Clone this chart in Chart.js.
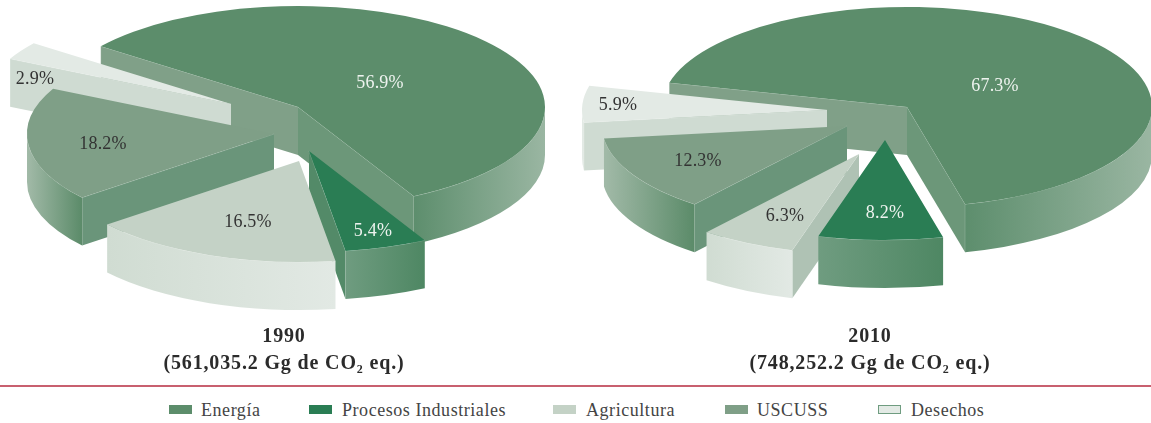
<!DOCTYPE html>
<html lang="es">
<head>
<meta charset="utf-8">
<title>Emisiones 1990 y 2010</title>
<script src="https://cdn.jsdelivr.net/npm/chart.js@4"></script>
<style>
  html, body { margin: 0; padding: 0; width: 1151px; height: 423px; background: #fff; overflow: hidden; }
  canvas { position: absolute; top: 0; }
  #rule { position: absolute; left: 0; top: 385px; width: 1151px; height: 2px; background: #c8606f; }
  .lg { position: absolute; top: 400px; height: 22px; line-height: 22px; font: 18px "Liberation Serif", serif; letter-spacing: .55px; color: #444; white-space: nowrap; }
  .sw { position: absolute; top: 405px; width: 23px; height: 9px; box-sizing: border-box; }
</style>
</head>
<body>
<canvas id="c1990" width="568" height="380" style="left:0"></canvas>
<canvas id="c2010" width="590" height="380" style="left:575px"></canvas>
<div id="rule"></div>
<div id="legend"></div>
<script>
// ---- data ----
const categories = ['Energía', 'Procesos Industriales', 'Agricultura', 'USCUSS', 'Desechos'];
const values1990 = [56.9, 5.4, 16.5, 18.2, 2.9];
const values2010 = [67.3, 8.2, 6.3, 12.3, 5.9];
const title1990 = ['1990', '(561,035.2 Gg de CO₂ eq.)'];
const title2010 = ['2010', '(748,252.2 Gg de CO₂ eq.)'];

// ---- styles ----
const topColors  = ['#5c8d6b', '#2a7d54', '#c4d2c6', '#7f9f87', '#e3eae5'];
const wallStops  = [
  ['#5d8e6d', '#9ab6a2'],
  ['#6f9c80', '#4e8763'],
  ['#d0dcd2', '#e2e9e4'],
  ['#a2baa8', '#5b8b69'],
  ['#e3eae5', '#e3eae5']
];
const faceColors = ['#80a088', '#538a68', '#afc2b4', '#6a957a', '#cfdbd2'];
const endFaceColors = ['#6c9779', '#538a68', '#afc2b4', '#6a957a', '#cfdbd2'];
const labelInk   = ['#eef3ef', '#eef3ef', '#333', '#333', '#333'];
const legendLefts = [[169, 201], [309, 342], [553, 586], [725, 757], [878, 911]];

const place1990 = { rx: 247, ry: 101, depth: 48, order: [0, 4, 3, 1, 2],
  apex:  [[298,107],[309,151],[299,161],[274,134],[231,104]],
  label: [[380,83],[373,231],[248,222],[103,144],[35,79]] };
const place2010 = { rx: 245, ry: 100, depth: 48, order: [0, 4, 3, 2, 1],
  apex:  [[907,107],[885,140],[859,154],[847,126],[827,110]],
  label: [[995,86],[885,213],[785,216],[698,161],[618,105]], offsetX: 575 };

class Pie3D extends Chart.PieController {
  draw() {
    const chart = this.chart, ctx = chart.ctx;
    const p = chart.options.plugins.place;
    const arcs = this.getMeta().data;
    const ox = p.offsetX || 0;
    ctx.save();
    ctx.letterSpacing = '0px';
    for (const i of p.order) {
      const arc = arcs[i];
      const { startAngle: a, endAngle: b, outerRadius: R, x, y } = arc.getProps(['startAngle', 'endAngle', 'outerRadius', 'x', 'y'], true);
      const tx = p.apex[i][0] - ox, ty = p.apex[i][1], rx = p.rx, ry = p.ry, d = p.depth;
      const pt = t => [tx + Math.cos(t) * rx, ty + Math.sin(t) * ry];
      const face = (t, col) => {
        const q = pt(t);
        ctx.beginPath();
        ctx.moveTo(tx, ty); ctx.lineTo(q[0], q[1]); ctx.lineTo(q[0], q[1] + d); ctx.lineTo(tx, ty + d);
        ctx.closePath(); ctx.fillStyle = col; ctx.fill();
        ctx.beginPath(); ctx.moveTo(tx, ty); ctx.lineTo(q[0], q[1]); ctx.moveTo(q[0], q[1]); ctx.lineTo(q[0], q[1] + d);
        ctx.strokeStyle = 'rgba(255,255,255,.3)'; ctx.lineWidth = .6; ctx.stroke();
      };
      // radial cut faces that look towards the viewer
      if (Math.cos(a) < 0) face(a, faceColors[i]);
      if (Math.cos(b) > 0) face(b, endFaceColors[i]);
      // curved outer wall: only the front half of the ellipse
      for (let k = -1; k <= 2; k++) {
        const s = Math.max(a, k * 2 * Math.PI), e = Math.min(b, k * 2 * Math.PI + Math.PI);
        if (e <= s) continue;
        const xs = [pt(s)[0], pt(e)[0]];
        const g = ctx.createLinearGradient(Math.min(...xs), 0, Math.max(...xs), 0);
        g.addColorStop(0, wallStops[i][0]); g.addColorStop(1, wallStops[i][1]);
        ctx.beginPath();
        ctx.ellipse(tx, ty, rx, ry, 0, s, e);
        ctx.ellipse(tx, ty + d, rx, ry, 0, e, s, true);
        ctx.closePath(); ctx.fillStyle = g; ctx.fill();
        ctx.beginPath(); ctx.ellipse(tx, ty, rx, ry, 0, s, e);
        ctx.strokeStyle = 'rgba(255,255,255,.35)'; ctx.lineWidth = .6; ctx.stroke();
      }
      // top surface: the library's own arc element, flattened into an ellipse
      ctx.save();
      ctx.translate(tx, ty);
      ctx.scale(rx / R, ry / R);
      ctx.translate(-x, -y);
      arc.draw(ctx, chart.chartArea);
      ctx.restore();
    }
    // percentage labels
    ctx.textAlign = 'center'; ctx.textBaseline = 'middle';
    ctx.font = '18px "Liberation Serif", serif';
    ctx.letterSpacing = '.2px';
    const vals = this.getDataset().data;
    vals.forEach((v, i) => {
      ctx.fillStyle = labelInk[i];
      ctx.fillText(v.toFixed(1) + '%', p.label[i][0] - ox, p.label[i][1]);
    });
    ctx.restore();
  }
}
Pie3D.id = 'pie3d';
Chart.register(Pie3D);

const spacing = { id: 'spacing', beforeDraw(c) { c.ctx.letterSpacing = '.85px'; } };

function make(id, values, titleLines, rotation, place) {
  return new Chart(document.getElementById(id), {
    type: 'pie3d',
    data: { labels: categories, datasets: [{ data: values, backgroundColor: topColors, borderWidth: 0 }] },
    options: {
      responsive: false, animation: false, rotation,
      plugins: {
        place,
        legend: { display: false }, tooltip: { enabled: false },
        title: { display: true, position: 'bottom', text: titleLines, color: '#2b2b2b',
          font: { family: '"Liberation Serif", serif', size: 20, weight: 'bold', lineHeight: 1.35 }, padding: { top: 0, bottom: 3 } }
      }
    },
    plugins: [spacing]
  });
}
make('c1990', values1990, title1990, 307, place1990);
make('c2010', values2010, title2010, 284, place2010);

// legend built from the same categories and colours
const lg = document.getElementById('legend');
categories.forEach((name, i) => {
  const sw = document.createElement('div');
  sw.className = 'sw'; sw.style.left = legendLefts[i][0] + 'px'; sw.style.background = topColors[i];
  if (i === 4) sw.style.border = '1.5px solid #6f9c80';
  const t = document.createElement('div');
  t.className = 'lg'; t.style.left = legendLefts[i][1] + 'px'; t.textContent = name;
  lg.append(sw, t);
});
</script>
</body>
</html>
